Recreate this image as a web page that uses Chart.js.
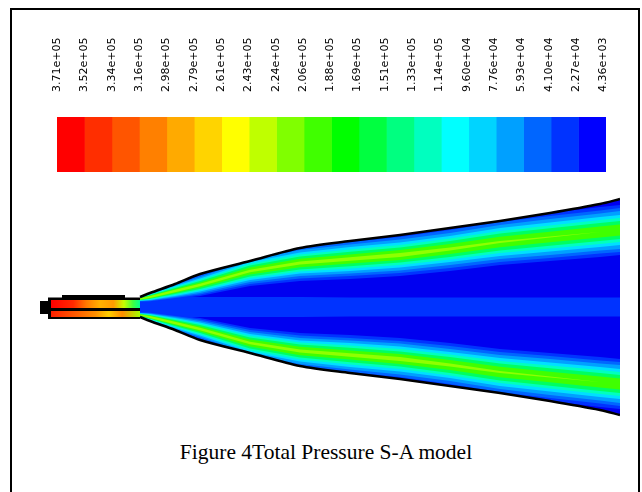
<!DOCTYPE html>
<html>
<head>
<meta charset="utf-8">
<script src="https://cdn.jsdelivr.net/npm/chart.js@4.4.1/dist/chart.umd.min.js"></script>
<style>
  html, body { margin:0; padding:0; background:#fff; width:642px; height:492px; overflow:hidden; }
  #frame { position:absolute; left:10px; top:8px; width:630px; height:600px; border:2px solid #000; box-sizing:border-box; }
  #cbWrap { position:absolute; left:37px; top:30px; width:589px; height:142px; }
  #plWrap { position:absolute; left:40px; top:177px; width:580px; height:260px; }
  #caption { position:absolute; left:0; width:652px; top:440px; text-align:center;
             font-family:"Liberation Serif","Times New Roman",serif; font-size:21.5px; color:#000; }
</style>
</head>
<body>
<div id="frame"></div>
<div id="cbWrap"><canvas id="cb" width="589" height="142"></canvas></div>
<div id="plWrap"><canvas id="pl" width="580" height="260"></canvas></div>
<div id="caption">Figure 4Total Pressure S-A model</div>
<script>
// ---------- colour bar data ----------
const levelLabels = ['3.71e+05','3.52e+05','3.34e+05','3.16e+05','2.98e+05','2.79e+05','2.61e+05',
  '2.43e+05','2.24e+05','2.06e+05','1.88e+05','1.69e+05','1.51e+05','1.33e+05','1.14e+05',
  '9.60e+04','7.76e+04','5.93e+04','4.10e+04','2.27e+04','4.36e+03'];
const levelColors = ['#ff0000','#ff2e00','#ff5500','#ff8000','#ffaa00','#ffd400','#ffff00',
  '#bfff00','#80ff00','#40ff00','#00ff00','#00ff40','#00ff80','#00ffbf','#00ffff',
  '#00d4ff','#00a0ff','#0066ff','#0033ff','#0000ff'];

// ---------- plume data (axial position / radial offsets, arbitrary units) ----------
const axialX  = [10, 11, 13.5, 16, 21, 26, 31, 36, 41, 46, 51, 56, 58];
const edgeR   = [1.0, 1.4, 2.3, 3.3, 4.6, 5.9, 6.6, 7.2, 7.9, 8.6, 9.4, 10.3, 10.8];
const shearR  = [0.8, 1.0, 1.6, 2.2, 3.6, 4.4, 4.8, 5.2, 5.8, 6.5, 7.0, 7.5, 7.7];
const coreR   = [0.6, 0.8, 1.0, 1.0, 1.0, 1.0, 0.95, 0.95, 0.95, 0.95, 0.95, 0.95, 0.95];
// half-widths of shear-layer contour bands, lowest level first
const shearColors = ['#0033ff','#0066ff','#00a0ff','#00e0ff','#00ffbf','#00ff60','#40ff00','#90ff00'];
const shearW = [
  [0.30,0.50,0.80,1.10,1.50,1.80,2.00,2.10,2.20,2.30,2.40,2.50,2.50],
  [0.25,0.42,0.70,0.95,1.30,1.55,1.70,1.80,1.90,2.00,2.10,2.15,2.20],
  [0.20,0.36,0.60,0.80,1.10,1.30,1.45,1.55,1.60,1.70,1.80,1.85,1.90],
  [0.17,0.30,0.50,0.66,0.90,1.05,1.20,1.25,1.30,1.40,1.45,1.50,1.50],
  [0.14,0.24,0.40,0.52,0.72,0.85,0.95,1.00,1.05,1.10,1.15,1.20,1.20],
  [0.11,0.18,0.30,0.40,0.55,0.65,0.72,0.76,0.80,0.85,0.88,0.90,0.90],
  [0.08,0.13,0.20,0.26,0.35,0.42,0.46,0.50,0.50,0.52,0.52,0.55,0.55],
  [0.06,0.09,0.12,0.12,0.12,0.15,0.18,0.20,0.15,0.10,0.05,0.00,0.00]
];
// nozzle
const nozzleX      = [0.8, 2.2, 2.2, 8.5, 8.5, 10];
const nozzleTop    = [0.95, 0.95, 1.2, 1.2, 0.95, 0.95];
const nozzleBottom = [-1.2, -1.2, -1.2, -1.2, -1.2, -1.2];
const streamX      = [1.1, 10];
const upperStream  = [0.7, -0.1];
const lowerStream  = [-0.4, -1.0];
const tipX = [0, 1.0];
const tipR = [0.6, -0.7];

// ---------- colour bar chart ----------
new Chart(document.getElementById('cb'), {
  type: 'bar',
  data: {
    labels: ['scale'],
    datasets: levelColors.map(c => ({ data: [1], backgroundColor: c, borderWidth: 0,
      barPercentage: 1, categoryPercentage: 1, xAxisID: 'x', yAxisID: 'y' }))
  },
  options: {
    indexAxis: 'y', responsive: false, animation: false,
    layout: { padding: { left: 20, right: 20, top: 0, bottom: 0 } },
    plugins: { legend: { display: false }, tooltip: { enabled: false } },
    scales: {
      x: { stacked: true, min: 0, max: levelColors.length, display: false },
      y: { stacked: true, display: false },
      x2: {
        type: 'linear', position: 'top', min: -0.4945, max: 19.615,
        grid: { display: false, drawTicks: false }, border: { display: false },
        afterBuildTicks: s => { s.ticks = levelLabels.map((_, i) => ({ value: i })); },
        afterFit: s => { s.height = 87; s.paddingLeft = 0; s.paddingRight = 0; },
        ticks: { autoSkip: false, minRotation: 90, maxRotation: 90, padding: 25, color: '#000',
          font: { family: 'DejaVu Sans', size: 11 },
          callback: (v, i) => levelLabels[i] }
      }
    }
  }
});

// ---------- plume chart ----------
const ds = [];
function add(d) {
  d.order = 1000 - ds.length;
  ds.push(Object.assign({ showLine: true, pointRadius: 0, borderWidth: 0, borderColor: 'rgba(0,0,0,0)',
    fill: false, tension: 0.3 }, d));
  return ds.length - 1;
}
function pts(xs, ys, s) { return xs.map((x, i) => ({ x: x, y: s * ys[i] })); }
function band(xs, a, b, color, tension) {
  const i = add({ data: a, tension: tension });
  add({ data: b, fill: i, backgroundColor: color, tension: tension });
}
function grad(stops) {
  return function (ctx) {
    const ch = ctx.chart;
    if (!ch.chartArea || !ch.scales.x) return stops[0][1];
    const sx = ch.scales.x;
    const g = ch.ctx.createLinearGradient(sx.getPixelForValue(streamX[0]), 0, sx.getPixelForValue(streamX[1]), 0);
    stops.forEach(s => g.addColorStop(s[0], s[1]));
    return g;
  };
}

// core of plume
band(axialX, pts(axialX, edgeR, 1), pts(axialX, edgeR, -1), '#0000f0');
band(axialX, pts(axialX, coreR, 1), pts(axialX, coreR, -1), '#0033ff');
// shear layers (upper and lower)
shearColors.forEach((c, k) => {
  const w = shearW[k];
  const outer = shearR.map((g, i) => g + w[i]);
  const inner = shearR.map((g, i) => g - w[i]);
  band(axialX, pts(axialX, outer, 1), pts(axialX, inner, 1), c);
  band(axialX, pts(axialX, outer, -1), pts(axialX, inner, -1), c);
});
// white masks outside the plume edge
add({ data: pts(axialX, edgeR, 1), fill: 'end', backgroundColor: '#fff' });
add({ data: pts(axialX, edgeR, -1), fill: 'start', backgroundColor: '#fff' });
// plume edge lines
add({ data: pts(axialX, edgeR, 1), borderColor: '#000', borderWidth: 2.5 });
add({ data: pts(axialX, edgeR, -1), borderColor: '#000', borderWidth: 2.5 });
// nozzle body
band(nozzleX, pts(nozzleX, nozzleTop, 1), pts(nozzleX, nozzleBottom, 1), '#000', 0);
band(streamX, [{x: streamX[0], y: upperStream[0]}, {x: streamX[1], y: upperStream[0]}],
     [{x: streamX[0], y: upperStream[1]}, {x: streamX[1], y: upperStream[1]}],
     grad([[0,'#ff0000'],[0.25,'#ff2a00'],[0.4,'#ff7a00'],[0.55,'#ffb000'],[0.7,'#ff9a00'],[0.82,'#c8ff00'],[0.92,'#40ff40'],[1,'#00ff90']]), 0);
band(streamX, [{x: streamX[0], y: lowerStream[0]}, {x: streamX[1], y: lowerStream[0]}],
     [{x: streamX[0], y: lowerStream[1]}, {x: streamX[1], y: lowerStream[1]}],
     grad([[0,'#ff2000'],[0.3,'#ff6000'],[0.5,'#ff9000'],[0.65,'#ffd000'],[0.8,'#ff8c00'],[1,'#a0ff00']]), 0);
// nozzle tip
band(tipX, [{x: tipX[0], y: tipR[0]}, {x: tipX[1], y: tipR[0]}],
     [{x: tipX[0], y: tipR[1]}, {x: tipX[1], y: tipR[1]}], '#000', 0);

new Chart(document.getElementById('pl'), {
  type: 'scatter',
  data: { datasets: ds },
  options: {
    responsive: false, animation: false,
    layout: { padding: 0 },
    plugins: { legend: { display: false }, tooltip: { enabled: false }, filler: { propagate: false } },
    elements: { point: { radius: 0 } },
    scales: {
      x: { type: 'linear', min: 0, max: 58, display: false },
      y: { type: 'linear', min: -13, max: 13, display: false }
    }
  }
});
</script>
</body>
</html>
